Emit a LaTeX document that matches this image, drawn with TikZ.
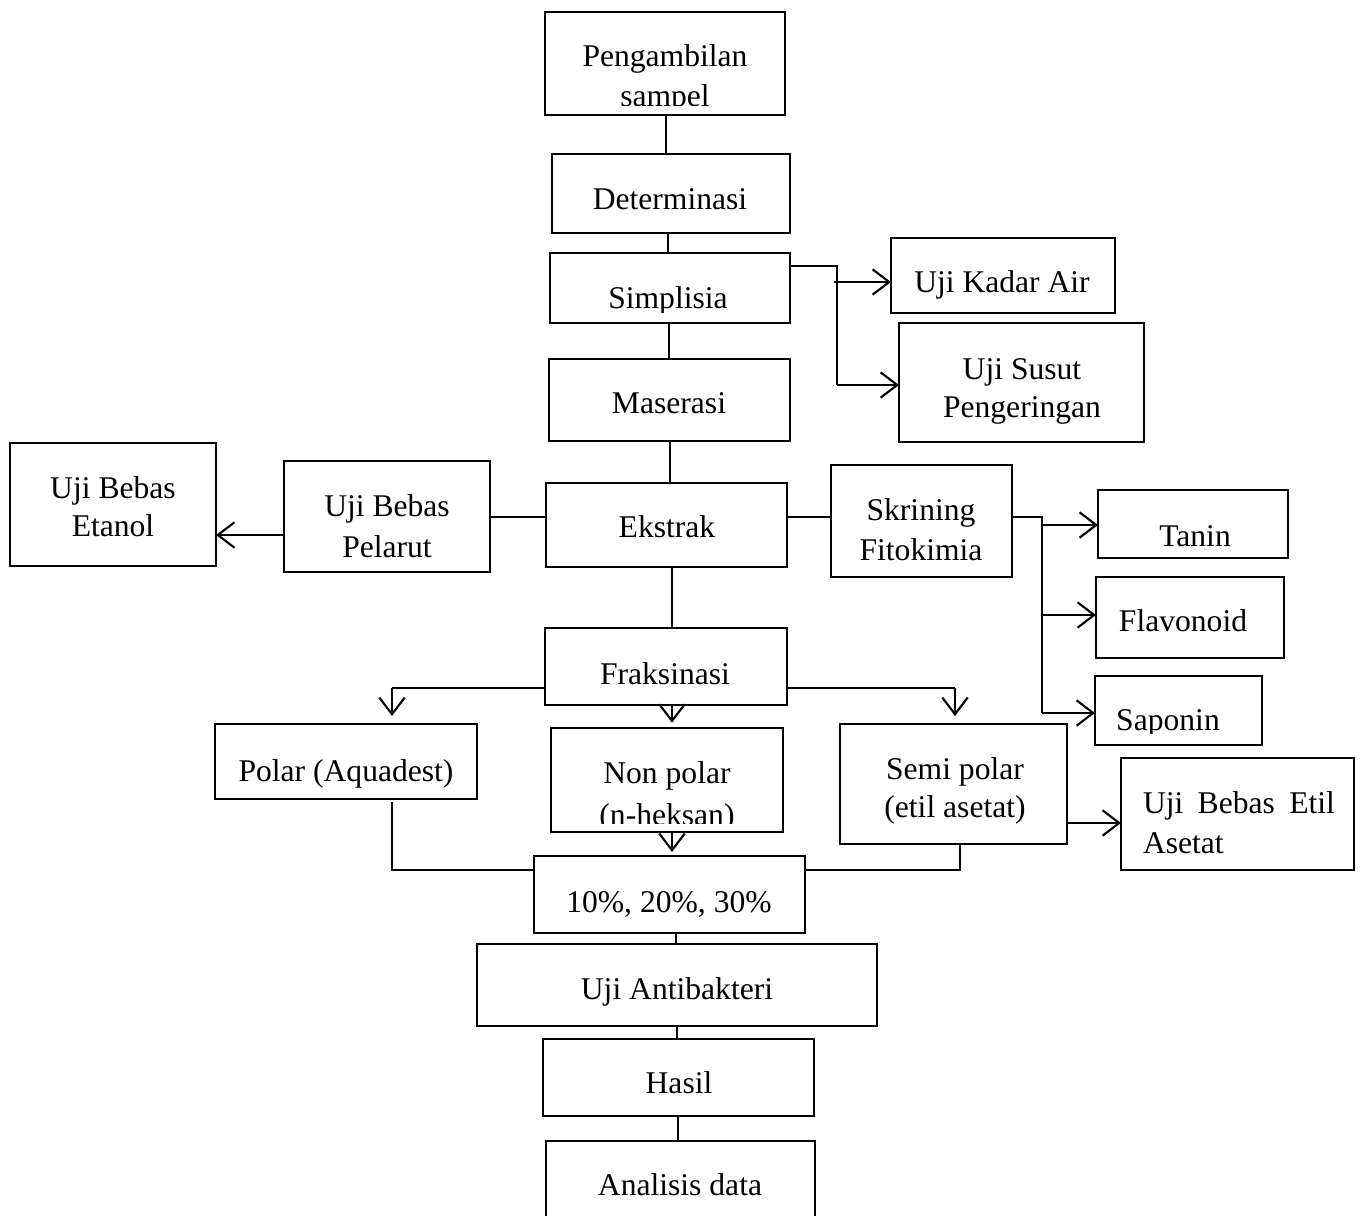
\documentclass[tikz,border=0pt]{standalone}
\usepackage{fontspec}
\setmainfont{Liberation Serif}
\usetikzlibrary{arrows.meta}
\newcommand\pbox[5]{\node[box,minimum width={(#4-#2)*0.75pt},minimum height={(#5-#3)*0.75pt}] (#1) at ({(#2+#4)/2},{(#3+#5)/2}) {};}
\tikzset{
  box/.style={draw,line width=1.5pt,inner sep=0pt,outer sep=0pt},
  txt/.style={inner sep=0pt,outer sep=0pt,anchor=base,font=\fontsize{23.7}{28}\selectfont},
  conn/.style={line width=0.9pt},
  arr/.style={line width=1.6pt,-{Straight Barb[length=12.5pt,width=19pt,line width=1.6pt]}},
}
\begin{document}
\begin{tikzpicture}[x=0.75pt,y=-0.75pt]
\useasboundingbox[fill=white] (0,0) rectangle (1363,1216);
% boxes
\pbox{pa}{545}{12}{785}{115}
\pbox{de}{552}{154}{790}{233}
\pbox{si}{550}{253}{790}{323}
\pbox{ma}{549}{359}{790}{441}
\pbox{ka}{891}{238}{1115}{313}
\pbox{su}{899}{323}{1144}{442}
\pbox{ek}{546}{483}{787}{567}
\pbox{pe}{284}{461}{490}{572}
\pbox{et}{10}{443}{216}{566}
\pbox{sk}{831}{465}{1012}{577}
\pbox{ta}{1098}{490}{1288}{558}
\pbox{fl}{1096}{577}{1284}{658}
\pbox{sa}{1095}{676}{1262}{745}
\pbox{fr}{545}{628}{787}{705}
\pbox{po}{215}{724}{477}{799}
\pbox{np}{551}{728}{783}{832}
\pbox{sp}{840}{724}{1067}{844}
\pbox{ue}{1121}{758}{1354}{870}
\pbox{pc}{534}{856}{805}{933}
\pbox{ua}{477}{944}{877}{1026}
\pbox{ha}{543}{1039}{814}{1116}
\pbox{an}{546}{1141}{815}{1232}
% texts
\node[txt] (t1) at (665,67) {Pengambilan};
\begin{scope}
\clip (545,12) rectangle (785,106);
\node[txt] (t2) at (665,107) {sampel};
\end{scope}
\node[txt] (t3) at (670,210) {Determinasi};
\begin{scope}
\clip (550,253) rectangle (790,312);
\node[txt] (t4) at (668,308) {Simplisia};
\end{scope}
\node[txt] (t5) at (669,413) {Maserasi};
\node[txt] (t6) at (1002,292) {Uji Kadar Air};
\node[txt] (t7) at (1022,379) {Uji Susut};
\node[txt] (t8) at (1022,417) {Pengeringan};
\node[txt] (t9) at (667,537) {Ekstrak};
\node[txt] (t10) at (387,516) {Uji Bebas};
\node[txt] (t11) at (387,557) {Pelarut};
\node[txt] (t12) at (113,498) {Uji Bebas};
\node[txt] (t13) at (113,536) {Etanol};
\node[txt] (t14) at (921,520) {Skrining};
\node[txt] (t15) at (921,560) {Fitokimia};
\node[txt] (t16) at (1195,546) {Tanin};
\node[txt] (t17) at (1183,631) {Flavonoid};
\begin{scope}
\clip (1095,676) rectangle (1262,733);
\node[txt] (t18) at (1168,730) {Saponin};
\end{scope}
\node[txt] (t19) at (665,684) {Fraksinasi};
\node[txt] (t20) at (346,781) {Polar (Aquadest)};
\node[txt] (t21) at (667,783) {Non polar};
\begin{scope}
\clip (551,728) rectangle (783,823);
\node[txt] (t22) at (667,825) {(n-heksan)};
\end{scope}
\node[txt] (t23) at (955,779) {Semi polar};
\node[txt] (t24) at (955,817) {(etil asetat)};
\node[txt,anchor=base west] (t25) at (1143,813) {\makebox[144pt][s]{Uji Bebas Etil}};
\node[txt,anchor=base west] (t26) at (1143,853) {Asetat};
\node[txt] (t27) at (669,912) {10\%, 20\%, 30\%};
\node[txt] (t28) at (677,999) {Uji Antibakteri};
\node[txt] (t29) at (679,1093) {Hasil};
\node[txt] (t30) at (680,1195) {Analisis data};
% coordinates
\coordinate (c1) at (666,0);
\coordinate (c2) at (668,0);
\coordinate (c3) at (669,0);
\coordinate (c4) at (670,0);
\coordinate (c5) at (672,0);
\coordinate (c6) at (676,0);
\coordinate (c7) at (677,0);
\coordinate (c8) at (678,0);
\coordinate (j1) at (837,266);
\coordinate (j2) at (837,385);
\coordinate (k1) at (834,282);
\coordinate (e1) at (0,517);
\coordinate (e2) at (284,535);
\coordinate (s1) at (1042,517);
\coordinate (s2) at (1042,713);
\coordinate (s3) at (1042,525);
\coordinate (s4) at (1042,615);
\coordinate (f1) at (392,688);
\coordinate (f2) at (955,688);
\coordinate (b1) at (392,870);
\coordinate (b0) at (392,802);
\coordinate (b2) at (960,870);
\coordinate (u1) at (1067,823);
% connectors
\draw[conn] (c1 |- pa.south) -- (c1 |- de.north);
\draw[conn] (c2 |- de.south) -- (c2 |- si.north);
\draw[conn] (c3 |- si.south) -- (c3 |- ma.north);
\draw[conn] (c4 |- ma.south) -- (c4 |- ek.north);
\draw[conn] (c5 |- ek.south) -- (c5 |- fr.north);
\draw[conn] (si.east |- j1) -- (j1) -- (j2);
\draw[arr] (k1) -- (k1 -| ka.west);
\draw[arr] (j2) -- (j2 -| su.west);
\draw[conn] (pe.east |- e1) -- (ek.west |- e1);
\draw[conn] (ek.east |- e1) -- (sk.west |- e1);
\draw[arr] (pe.west |- e2) -- (et.east |- e2);
\draw[conn] (sk.east |- s1) -- (s1) -- (s2);
\draw[arr] (s3) -- (s3 -| ta.west);
\draw[arr] (s4) -- (s4 -| fl.west);
\draw[arr] (s2) -- (s2 -| sa.west);
\draw[conn] (fr.west |- f1) -- (f1);
\draw[arr] (f1) -- ([yshift=6pt]f1 |- po.north);
\draw[conn] (fr.east |- f2) -- (f2);
\draw[arr] (f2) -- ([yshift=6pt]f2 |- sp.north);
\draw[arr] (c5 |- fr.south) -- ([yshift=4pt]c5 |- np.north);
\draw[arr] (c5 |- np.south) -- ([yshift=3pt]c5 |- pc.north);
\draw[conn] (b0) -- (b1) -- (b1 -| pc.west);
\draw[conn] (b2 |- sp.south) -- (b2) -- (b2 -| pc.east);
\draw[arr] (u1) -- (u1 -| ue.west);
\draw[conn] (c6 |- pc.south) -- (c6 |- ua.north);
\draw[conn] (c7 |- ua.south) -- (c7 |- ha.north);
\draw[conn] (c8 |- ha.south) -- (c8 |- an.north);
\end{tikzpicture}
\end{document}
